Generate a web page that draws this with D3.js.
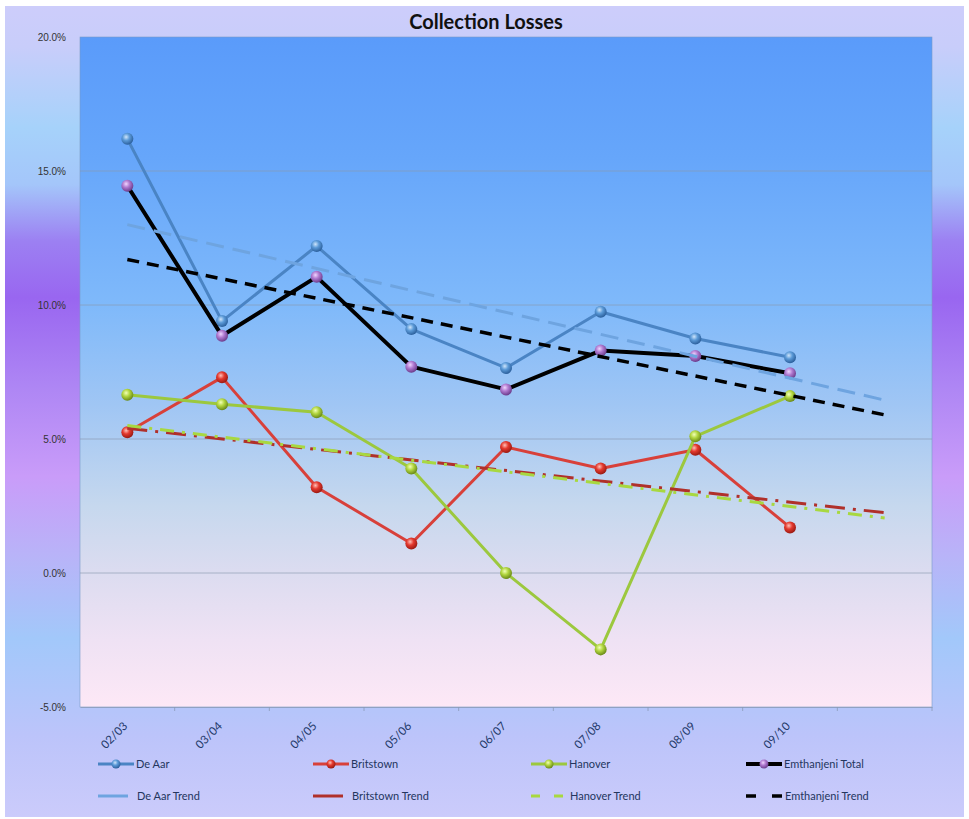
<!DOCTYPE html>
<html><head><meta charset="utf-8">
<script src="https://cdn.jsdelivr.net/npm/d3@7"></script>
<style>body{margin:0;background:#fff}svg{display:block}</style>
</head><body><svg id="c" width="969" height="819"></svg>
<script>
const categories = ["02/03","03/04","04/05","05/06","06/07","07/08","08/09","09/10"];
const forecastSlot = "";
const yTicks = [-5,0,5,10,15,20];
const deAar      = [16.2, 9.4, 12.2, 9.1, 7.65, 9.75, 8.75, 8.05];
const britstown  = [5.25, 7.3, 3.2, 1.1, 4.7, 3.9, 4.6, 1.7];
const hanover    = [6.65, 6.3, 6.0, 3.9, 0.0, -2.85, 5.1, 6.6];
const emthanjeni = [14.45, 8.85, 11.05, 7.7, 6.85, 8.3, 8.1, 7.45];
// trendline endpoints (first category -> forecast slot)
const deAarTrend      = [13.0, 6.45];
const britstownTrend  = [5.4, 2.25];
const hanoverTrend    = [5.5, 2.05];
const emthanjeniTrend = [11.7, 5.9];

const svg = d3.select("#c");
const defs = svg.append("defs");
const L=80,R=932,T=37,B=707;

// outer gradient
const og = defs.append("linearGradient").attr("id","og").attr("x1",0).attr("y1",0).attr("x2",0).attr("y2",1);
[[0,"#cdcdfb"],[0.05,"#c8cdfa"],[0.15,"#a6d2fa"],[0.22,"#a4c6fa"],[0.29,"#9c80f2"],[0.36,"#9966f0"],[0.47,"#ae86f4"],[0.58,"#c99cf9"],[0.68,"#b8b4f8"],[0.78,"#a2c8fa"],[0.9,"#bcc4fa"],[1,"#cbcbfb"]]
 .forEach(s=>og.append("stop").attr("offset",s[0]).attr("stop-color",s[1]));
const pg = defs.append("linearGradient").attr("id","pg").attr("x1",0).attr("y1",0).attr("x2",0).attr("y2",1);
[[0,"#5a9bfa"],[0.18,"#66a6fa"],[0.4,"#7fb9fa"],[0.55,"#a0c6f4"],[0.7,"#c6d8ee"],[0.8,"#dcdcf0"],[0.9,"#efe2f4"],[1,"#fde8f6"]]
 .forEach(s=>pg.append("stop").attr("offset",s[0]).attr("stop-color",s[1]));

svg.append("rect").attr("x",5).attr("y",6).attr("width",959).attr("height",811).attr("fill","url(#og)");
svg.append("rect").attr("x",L).attr("y",T).attr("width",R-L).attr("height",B-T).attr("fill","url(#pg)")
  .attr("stroke","#7a9cc8").attr("stroke-width",0.6);

const x = d3.scaleBand().domain([...categories, forecastSlot]).range([L,R]);
const cx = c => x(c)+x.bandwidth()/2;
const y = d3.scaleLinear().domain([-5,20]).range([B,T]);

// gridlines
svg.append("g").selectAll("line").data(yTicks.filter(t=>t>-5&&t<20)).join("line")
  .attr("x1",L).attr("x2",R).attr("y1",d=>y(d)).attr("y2",d=>y(d))
  .attr("stroke","#8a9ab0").attr("stroke-width",0.8).attr("opacity",0.8);

// y axis labels
const yAx = svg.append("g").attr("transform",`translate(${L},0)`)
  .call(d3.axisLeft(y).tickValues(yTicks).tickFormat(d=>d.toFixed(1)+"%").tickSize(0).tickPadding(14));
yAx.select(".domain").remove();
yAx.selectAll("text").attr("font-family","Liberation Sans, Arial").attr("font-size",10).attr("fill","#333");

// x axis
const xAx = svg.append("g").attr("transform",`translate(0,${B})`)
  .call(d3.axisBottom(x).tickSize(0).tickFormat(d=>d));
xAx.select(".domain").attr("stroke","#8a9ab8").attr("stroke-width",0.8);
xAx.selectAll("text").attr("font-family","Lato, Open Sans, sans-serif").attr("font-size",11.5).attr("fill","#243a6a")
  .attr("text-anchor","end").attr("transform","translate(-2,17) rotate(-45)").attr("dy","0.35em").attr("y",0).attr("x",0);
// band boundary ticks
svg.append("g").selectAll("line").data(x.domain()).join("line")
  .attr("x1",d=>x(d)+x.bandwidth()).attr("x2",d=>x(d)+x.bandwidth()).attr("y1",B).attr("y2",B+4)
  .attr("stroke","#8a9ab8").attr("stroke-width",0.8);

// title
svg.append("text").attr("x",486).attr("y",29).attr("text-anchor","middle")
  .attr("font-family","Lato, Open Sans, sans-serif").attr("font-weight","bold").attr("font-size",20).attr("fill","#111")
  .text("Collection Losses");

// sphere gradients
function sphere(id, light, mid, dark){
  const g = defs.append("radialGradient").attr("id",id).attr("cx","40%").attr("cy","35%").attr("r","65%");
  g.append("stop").attr("offset",0).attr("stop-color",light);
  g.append("stop").attr("offset",0.45).attr("stop-color",mid);
  g.append("stop").attr("offset",1).attr("stop-color",dark);
}
sphere("sBlue","#cde4fb","#5b9ad8","#2b5f9c");
sphere("sRed","#ffc0b8","#e4392e","#9a1a12");
sphere("sGreen","#f2ffb8","#b2d640","#6a8a18");
sphere("sPurple","#f0d4ff","#b07ad0","#6c3c8c");

const series = [
  {name:"De Aar", data:deAar, color:"#4a84c4", w:3, marker:"sBlue"},
  {name:"Britstown", data:britstown, color:"#d8403a", w:3, marker:"sRed"},
  {name:"Hanover", data:hanover, color:"#9cc83e", w:3, marker:"sGreen"},
  {name:"Emthanjeni Total", data:emthanjeni, color:"#000", w:4, marker:"sPurple"}
];
const trends = [
  {name:"De Aar Trend", data:deAarTrend, color:"#6ea4e0", w:3, dash:"18,9", leg:"none", lw:30},
  {name:"Britstown Trend", data:britstownTrend, color:"#b0302a", w:3, dash:"20,8,3,8", leg:"none", lw:30},
  {name:"Hanover Trend", data:hanoverTrend, color:"#a8d840", w:3, dash:"14,8,3,8", leg:"9,14", lw:34},
  {name:"Emthanjeni Trend", data:emthanjeniTrend, color:"#000", w:3.5, dash:"12,8", leg:"10,16", lw:38}
];
const line = d3.line().x(d=>d[0]).y(d=>y(d[1]));

series.forEach(s=>{
  const pts = s.data.map((v,i)=>[cx(categories[i]),v]);
  svg.append("path").attr("d",line(pts)).attr("fill","none").attr("stroke",s.color).attr("stroke-width",s.w)
    .attr("stroke-linejoin","round");
  svg.append("g").selectAll("circle").data(pts).join("circle")
    .attr("cx",d=>d[0]).attr("cy",d=>y(d[1])).attr("r",6).attr("fill",`url(#${s.marker})`);
});
trends.forEach(t=>{
  const pts = [[cx(categories[0]),t.data[0]],[cx(forecastSlot),t.data[1]]];
  svg.append("path").attr("d",line(pts)).attr("fill","none").attr("stroke",t.color).attr("stroke-width",t.w)
    .attr("stroke-dasharray",t.dash);
});

// legend
const legX = [98, 313, 531, 746];
const legRows = [764, 796];
const lf = "Lato, Open Sans, sans-serif";
series.forEach((s,i)=>{
  const g = svg.append("g").attr("transform",`translate(${legX[i]},${legRows[0]})`);
  g.append("line").attr("x1",0).attr("x2",36).attr("stroke",s.color).attr("stroke-width",s.w);
  g.append("circle").attr("cx",18).attr("r",4.5).attr("fill",`url(#${s.marker})`);
  g.append("text").attr("x",38).attr("dy","0.35em").attr("font-family",lf).attr("font-size",11).attr("fill","#24365e").text(s.name);
});
trends.forEach((t,i)=>{
  const g = svg.append("g").attr("transform",`translate(${legX[i]},${legRows[1]})`);
  g.append("line").attr("x1",0).attr("x2",t.lw).attr("stroke",t.color).attr("stroke-width",t.w).attr("stroke-dasharray",t.leg);
  g.append("text").attr("x",39).attr("dy","0.35em").attr("font-family",lf).attr("font-size",11).attr("fill","#24365e").text(t.name);
});
</script></body></html>
